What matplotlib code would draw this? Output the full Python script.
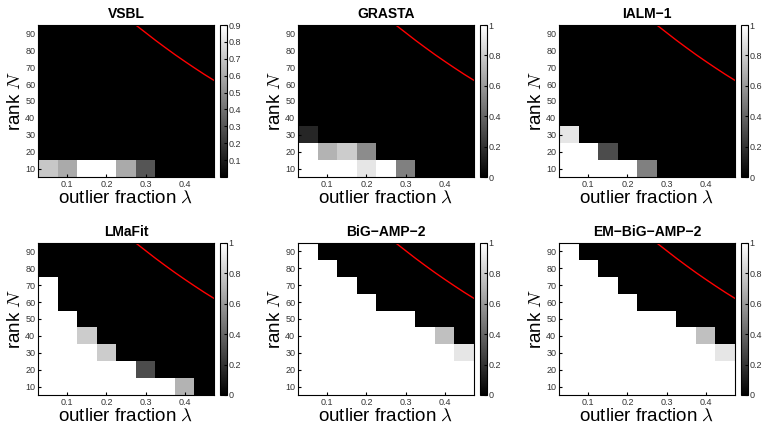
import numpy as np
import matplotlib
matplotlib.use('Agg')
import matplotlib.pyplot as plt

plt.rcParams['font.family'] = ['Liberation Sans', 'DejaVu Sans']
plt.rcParams['mathtext.fontset'] = 'cm'

# grid: outlier fraction (columns) and rank (rows)
lambdas = [0.05, 0.10, 0.15, 0.20, 0.25, 0.30, 0.35, 0.40, 0.45]
ranks = [10, 20, 30, 40, 50, 60, 70, 80, 90]

# success rate, rows = rank 10..90, columns = lambda 0.05..0.45
vsbl = [
    [0.70, 0.60, 0.90, 0.90, 0.60, 0.30, 0, 0, 0],
] + [[0] * 9 for _ in range(8)]

grasta = [
    [1.00, 1.00, 1.00, 0.90, 1.00, 0.50, 0, 0, 0],
    [1.00, 0.70, 0.80, 0.55, 0, 0, 0, 0, 0],
    [0.15, 0, 0, 0, 0, 0, 0, 0, 0],
] + [[0] * 9 for _ in range(6)]

ialm = [
    [1.00, 1.00, 1.00, 1.00, 0.50, 0, 0, 0, 0],
    [1.00, 1.00, 0.30, 0, 0, 0, 0, 0, 0],
    [0.90, 0, 0, 0, 0, 0, 0, 0, 0],
] + [[0] * 9 for _ in range(6)]

lmafit = [
    [1, 1, 1, 1, 1, 1, 1, 0.70, 0],
    [1, 1, 1, 1, 1, 0.30, 0, 0, 0],
    [1, 1, 1, 0.80, 0, 0, 0, 0, 0],
    [1, 1, 0.80, 0, 0, 0, 0, 0, 0],
    [1, 1, 0, 0, 0, 0, 0, 0, 0],
    [1, 0, 0, 0, 0, 0, 0, 0, 0],
    [1, 0, 0, 0, 0, 0, 0, 0, 0],
    [0, 0, 0, 0, 0, 0, 0, 0, 0],
    [0, 0, 0, 0, 0, 0, 0, 0, 0],
]

bigamp = [
    [1, 1, 1, 1, 1, 1, 1, 1, 1],
    [1, 1, 1, 1, 1, 1, 1, 1, 1],
    [1, 1, 1, 1, 1, 1, 1, 1, 0.90],
    [1, 1, 1, 1, 1, 1, 1, 0.75, 0],
    [1, 1, 1, 1, 1, 1, 0, 0, 0],
    [1, 1, 1, 1, 0, 0, 0, 0, 0],
    [1, 1, 1, 0, 0, 0, 0, 0, 0],
    [1, 1, 0, 0, 0, 0, 0, 0, 0],
    [1, 0, 0, 0, 0, 0, 0, 0, 0],
]

em_bigamp = [
    [1, 1, 1, 1, 1, 1, 1, 1, 1],
    [1, 1, 1, 1, 1, 1, 1, 1, 1],
    [1, 1, 1, 1, 1, 1, 1, 1, 0.90],
    [1, 1, 1, 1, 1, 1, 1, 0.75, 0],
    [1, 1, 1, 1, 1, 1, 0, 0, 0],
    [1, 1, 1, 1, 0, 0, 0, 0, 0],
    [1, 1, 1, 0, 0, 0, 0, 0, 0],
    [1, 1, 0, 0, 0, 0, 0, 0, 0],
    [1, 0, 0, 0, 0, 0, 0, 0, 0],
]

titles = ['VSBL', 'GRASTA', 'IALM\u22121', 'LMaFit', 'BiG\u2212AMP\u22122', 'EM\u2212BiG\u2212AMP\u22122']
panels = [vsbl, grasta, ialm, lmafit, bigamp, em_bigamp]
vmaxes = [0.9, 1, 1, 1, 1, 1]

# red bound curve
bound_lam = [0.275, 0.30, 0.325, 0.35, 0.375, 0.40, 0.425, 0.45, 0.475]
bound_N = [95.0, 90.5, 86.0, 81.7, 77.5, 73.5, 69.6, 65.8, 62.2]

W, H = 764, 424
fig = plt.figure(figsize=(W / 100, H / 100), dpi=100)

lefts = [38, 298, 559]
tops = [25, 243]
aw, ah = 176, 152
cb_off, cb_w = 182, 7

for i, (data, title, vmax) in enumerate(zip(panels, titles, vmaxes)):
    r, c = divmod(i, 3)
    x0, y0 = lefts[c], tops[r]
    ax = fig.add_axes([x0 / W, 1 - (y0 + ah) / H, aw / W, ah / H])
    dl = (lambdas[1] - lambdas[0]) / 2
    dn = (ranks[1] - ranks[0]) / 2
    im = ax.imshow(np.array(data, dtype=float), cmap='gray', vmin=0, vmax=vmax,
                   origin='lower', aspect='auto', interpolation='nearest',
                   extent=[lambdas[0] - dl, lambdas[-1] + dl, ranks[0] - dn, ranks[-1] + dn])
    ax.plot(bound_lam, bound_N, color='red', lw=1.0)
    ax.set_xlim(lambdas[0] - dl, lambdas[-1] + dl)
    ax.set_ylim(ranks[0] - dn, ranks[-1] + dn)
    ax.set_xticks([0.1, 0.2, 0.3, 0.4])
    ax.set_xticklabels(['0.1', '0.2', '0.3', '0.4'])
    ax.set_yticks(ranks)
    ax.tick_params(direction='in', length=2, labelsize=6.5, labelcolor='#333333', pad=2)
    ax.set_title(title, fontsize=10, fontweight='bold', pad=5)
    ax.set_xlabel(r'outlier fraction $\lambda$', fontsize=13.5, labelpad=1)
    ax.set_ylabel(r'rank $N$', fontsize=13.5, labelpad=1)
    for s in ax.spines.values():
        s.set_linewidth(0.8)

    cax = fig.add_axes([(x0 + cb_off) / W, 1 - (y0 + ah) / H, cb_w / W, ah / H])
    cb = fig.colorbar(im, cax=cax)
    if vmax < 1:
        cb.set_ticks([0.1, 0.2, 0.3, 0.4, 0.5, 0.6, 0.7, 0.8, 0.9])
    else:
        cb.set_ticks([0, 0.2, 0.4, 0.6, 0.8, 1])
        cb.set_ticklabels(['0', '0.2', '0.4', '0.6', '0.8', '1'])
    cb.ax.tick_params(direction='in', length=2, labelsize=6.5, labelcolor='#333333', pad=1)
    cb.outline.set_linewidth(0.8)

fig.savefig('out.png', dpi=100)
